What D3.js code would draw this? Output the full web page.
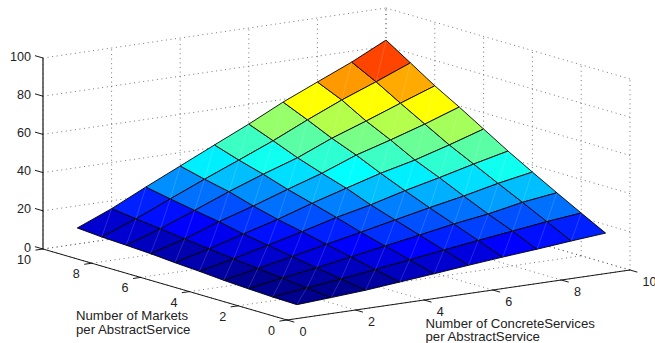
<!DOCTYPE html>
<html>
<head>
<meta charset="utf-8">
<script src="https://d3js.org/d3.v7.min.js"></script>
<style>
  html, body { margin: 0; padding: 0; background: #fff; overflow: hidden; }
  text { font-family: "Liberation Sans", Arial, sans-serif; fill: #222; }
</style>
</head>
<body>
<script>
// Tick values on the three axes.
const xTicks = [0, 2, 4, 6, 8, 10];
const yTicks = [0, 2, 4, 6, 8, 10];
const zTicks = [0, 20, 40, 60, 80, 100];

// Surface grid, 1..10 on both floor axes.
const xValues = [1, 2, 3, 4, 5, 6, 7, 8, 9, 10];
const yValues = [1, 2, 3, 4, 5, 6, 7, 8, 9, 10];

// Heights, one row per y value.
const row1  = [1.7, 2.8, 4.0, 5.7, 7.4, 9.2, 10.9, 12.4, 14.1, 15.6];
const row2  = [2.0, 4.1, 6.2, 8.5, 11.0, 13.5, 15.9, 18.2, 20.5, 22.4];
const row3  = [2.6, 5.5, 8.3, 11.4, 14.5, 17.6, 20.8, 23.4, 26.9, 29.3];
const row4  = [3.3, 6.9, 10.5, 14.3, 18.0, 21.8, 25.6, 29.1, 33.1, 36.4];
const row5  = [4.3, 8.2, 12.7, 17.2, 22.0, 26.0, 30.8, 35.0, 39.5, 43.7];
const row6  = [5.1, 9.7, 14.9, 19.9, 25.7, 31.0, 36.2, 40.5, 45.8, 51.5];
const row7  = [6.1, 11.2, 17.6, 23.2, 29.3, 35.1, 42.0, 47.3, 53.0, 59.3];
const row8  = [6.8, 12.8, 19.8, 27.0, 33.5, 39.5, 47.1, 53.5, 60.2, 66.7];
const row9  = [7.4, 14.3, 22.1, 29.8, 37.2, 44.7, 53.0, 60.8, 67.7, 75.0];
const row10 = [8.4, 15.9, 24.6, 33.0, 41.4, 49.7, 58.6, 66.5, 74.3, 83.2];
const heights = [row1, row2, row3, row4, row5, row6, row7, row8, row9, row10];

// Axis titles.
const xTitle = ['Number of ConcreteServices', 'per AbstractService'];
const yTitle = ['Number of Markets', 'per AbstractService'];

// Svg constants.
const width = 655, height = 343;

const svg = d3.select('body')
    .append('svg')
    .attr('width', width)
    .attr('height', height)
    .style('display', 'block');

// Each data axis gets its own screen x and screen y scale.
const xToLeft = d3.scaleLinear().domain([0, 10]).range([287, 630]);
const xToTop = d3.scaleLinear().domain([0, 10]).range([320, 270]);
const yToLeft = d3.scaleLinear().domain([0, 10]).range([0, -244]);
const yToTop = d3.scaleLinear().domain([0, 10]).range([0, -71]);
const zToTop = d3.scaleLinear().domain([0, 100]).range([0, -191]);

// Projecting a data point onto the screen.
function project(x, y, z) {
    return [xToLeft(x) + yToLeft(y), xToTop(x) + yToTop(y) + zToTop(z)];
}

// MATLAB jet, 64 levels.
const jet = d3.scaleLinear()
    .domain([0, 7 / 63, 23 / 63, 40 / 63, 55 / 63, 1])
    .range(['rgb(0,0,143)', 'rgb(0,0,255)', 'rgb(0,255,255)', 'rgb(255,255,0)', 'rgb(255,0,0)', 'rgb(128,0,0)']);
const allHeights = heights.flat();
const colourLevel = d3.scaleQuantize()
    .domain([d3.min(allHeights), d3.max(allHeights)])
    .range(d3.range(64).map(i => i / 63));

// Dotted grid, floor and both back walls.
const gridLines = [];
xTicks.forEach(t => {
    gridLines.push([project(t, 0, 0), project(t, 10, 0)]);
    gridLines.push([project(t, 10, 0), project(t, 10, 100)]);
});
yTicks.forEach(t => {
    gridLines.push([project(0, t, 0), project(10, t, 0)]);
    gridLines.push([project(10, t, 0), project(10, t, 100)]);
});
zTicks.forEach(t => {
    gridLines.push([project(0, 10, t), project(10, 10, t)]);
    gridLines.push([project(10, 10, t), project(10, 0, t)]);
});

const line = d3.line();

svg.append('g')
    .selectAll('path')
    .data(gridLines)
    .join('path')
        .attr('d', line)
        .attr('fill', 'none')
        .attr('stroke', '#555')
        .attr('stroke-width', 0.8)
        .attr('stroke-dasharray', '1 3.6');

// Building the faces, the back ones first.
const faces = [];
for (let j = yValues.length - 2; j >= 0; j--) {
    for (let i = 0; i < xValues.length - 1; i++) {
        faces.push({
            level: heights[j][i],
            corners: [
                project(xValues[i], yValues[j], heights[j][i]),
                project(xValues[i + 1], yValues[j], heights[j][i + 1]),
                project(xValues[i + 1], yValues[j + 1], heights[j + 1][i + 1]),
                project(xValues[i], yValues[j + 1], heights[j + 1][i])
            ]
        });
    }
}

const faceGroup = svg.append('g');

faceGroup.selectAll('.face')
    .data(faces)
    .join('path')
        .attr('class', 'face')
        .attr('d', d => line(d.corners) + 'Z')
        .attr('fill', d => jet(colourLevel(d.level)))
        .attr('stroke', '#000')
        .attr('stroke-width', 0.9)
        .attr('stroke-linejoin', 'round');

// Faint seam across each face.
faceGroup.selectAll('.seam')
    .data(faces)
    .join('path')
        .attr('class', 'seam')
        .attr('d', d => line([d.corners[0], d.corners[2]]))
        .attr('stroke', '#fff')
        .attr('stroke-opacity', 0.22)
        .attr('stroke-width', 0.7);

// Axis lines, the vertical one looks heavier and greyer.
const floorLines = [
    [project(0, 10, 0), project(0, 0, 0)],
    [project(0, 0, 0), project(10, 0, 0)]
];
svg.append('g')
    .selectAll('path')
    .data(floorLines)
    .join('path')
        .attr('d', line)
        .attr('stroke', '#000')
        .attr('stroke-width', 0.9);

svg.append('path')
    .attr('d', line([project(0, 10, 0), project(0, 10, 100)]))
    .attr('stroke', '#444')
    .attr('stroke-width', 1.5);

// Tick marks: floor ticks run along the other floor axis, z ticks lean backwards.
const tickMarks = [];
xTicks.forEach(t => tickMarks.push([project(t, 0, 0), project(t, -0.3, 0)]));
yTicks.forEach(t => tickMarks.push([project(0, t, 0), project(-0.22, t, 0)]));
zTicks.forEach(t => tickMarks.push([project(0, 10, t), project(0, 10.33, t)]));
svg.append('g')
    .selectAll('path')
    .data(tickMarks)
    .join('path')
        .attr('d', line)
        .attr('stroke', '#000')
        .attr('stroke-width', 0.9);

// Tick labels.
const fontSize = 12.6;
const addLabels = (values, pos, anchor) => svg.append('g')
    .selectAll('text')
    .data(values)
    .join('text')
        .attr('x', d => pos(d)[0])
        .attr('y', d => pos(d)[1])
        .attr('dy', '0.36em')
        .attr('text-anchor', anchor)
        .attr('font-size', fontSize)
        .text(d => d);

addLabels(zTicks, d => [31, project(0, 10, d)[1] - 2], 'end');
addLabels(xTicks, d => {
    const p = project(d, 0, 0);
    return [p[0] + 12.5, p[1] + 11];
}, 'start');
addLabels(yTicks, d => {
    const p = project(0, d, 0);
    return [p[0] - 12, p[1] + 10.5];
}, 'end');

// Axis titles, two lines each.
const addTitle = (lines, left, baselines) => svg.append('g')
    .selectAll('text')
    .data(lines)
    .join('text')
        .attr('x', left)
        .attr('y', (_, i) => baselines[i])
        .attr('font-size', 13.2)
        .text(d => d);

addTitle(xTitle, 425.5, [328, 341]);
addTitle(yTitle, 76, [320, 334]);
</script>
</body>
</html>
